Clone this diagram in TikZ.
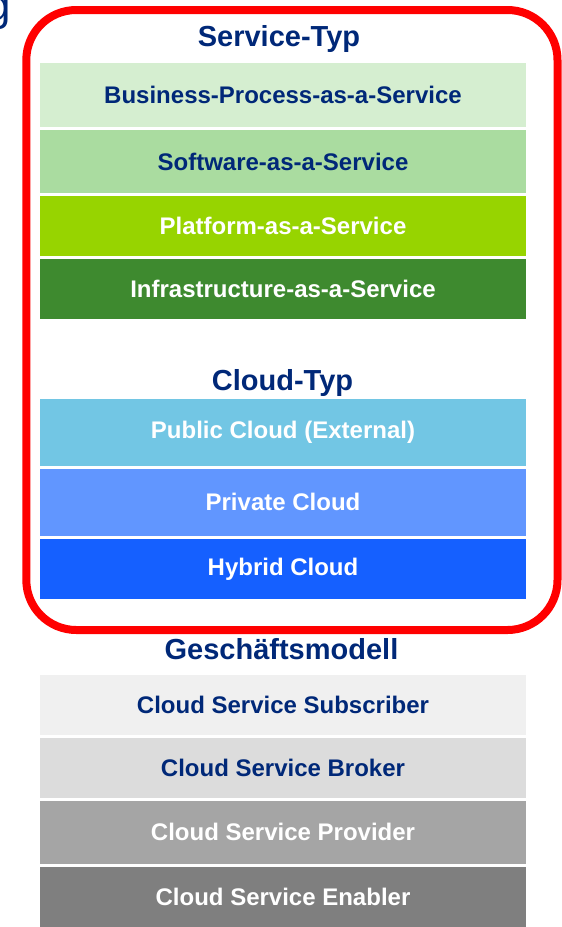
\documentclass[tikz,border=0pt]{standalone}
\usepackage{fontspec}
\setmainfont{Liberation Sans}
\usetikzlibrary{positioning}

\definecolor{navy}{HTML}{002878}
\definecolor{framered}{HTML}{FF0000}
\definecolor{bpaasgreen}{HTML}{D5EED0}
\definecolor{saasgreen}{HTML}{AADCA0}
\definecolor{paasgreen}{HTML}{97D400}
\definecolor{iaasgreen}{HTML}{3E8A2F}
\definecolor{publicblue}{HTML}{72C6E4}
\definecolor{privateblue}{HTML}{6196FF}
\definecolor{hybridblue}{HTML}{1560FF}
\definecolor{grayA}{HTML}{F0F0F0}
\definecolor{grayB}{HTML}{DCDCDC}
\definecolor{grayC}{HTML}{A5A5A5}
\definecolor{grayD}{HTML}{7F7F7F}

\tikzstyle{layer} = [minimum width=486pt, inner sep=0pt, outer sep=0pt, text centered, draw=none, font=\fontsize{24}{24}\selectfont\bfseries]
\tikzstyle{heading} = [anchor=base, text=navy, font=\fontsize{29}{29}\selectfont\bfseries]
\tikzstyle{frame} = [draw=framered, line width=8pt, rounded corners=50pt]

\begin{document}
\begin{tikzpicture}[x=1pt, y=-1pt, node distance=3.5pt]
    \useasboundingbox (0,0) rectangle (562,927);

    \node (cut) [anchor=base east, inner sep=0pt, text=navy, font=\fontsize{44}{44}\selectfont] at (11,20) {g};

    % Service-Typ
    \node (svctitle) [heading] at (279,46) {Service-Typ};
    \node (bpaas) [layer, anchor=north, minimum height=63.5pt, fill=bpaasgreen, text=navy] at (283,63.3) {Business-Process-as-a-Service};
    \node (saas) [layer, below=of bpaas, minimum height=62.5pt, fill=saasgreen, text=navy] {Software-as-a-Service};
    \node (paas) [layer, below=of saas, minimum height=59.5pt, fill=paasgreen, text=white] {Platform-as-a-Service};
    \node (iaas) [layer, below=of paas, minimum height=60pt, fill=iaasgreen, text=white] {Infrastructure-as-a-Service};

    % Cloud-Typ
    \node (cloudtitle) [heading] at (282.5,390) {Cloud-Typ};
    \node (public) [layer, anchor=north, minimum height=66.5pt, fill=publicblue, text=white] at (283,399) {Public Cloud (External)};
    \node (private) [layer, below=3pt of public, minimum height=67.5pt, fill=privateblue, text=white] {Private Cloud};
    \node (hybrid) [layer, below=3pt of private, minimum height=60pt, fill=hybridblue, text=white] {Hybrid Cloud};

    \draw[frame] (26.3,10) rectangle (557.5,630);

    % Geschaeftsmodell
    \node (modeltitle) [heading] at (281.5,659) {Geschäftsmodell};
    \node (subscriber) [layer, anchor=north, minimum height=60pt, fill=grayA, text=navy] at (283,675) {Cloud Service Subscriber};
    \node (broker) [layer, below=3.3pt of subscriber, minimum height=59.5pt, fill=grayB, text=navy] {Cloud Service Broker};
    \node (provider) [layer, below=3.3pt of broker, minimum height=62.5pt, fill=grayC, text=white] {Cloud Service Provider};
    \node (enabler) [layer, below=3.3pt of provider, minimum height=61pt, fill=grayD, text=white] {Cloud Service Enabler};

    \end{tikzpicture}
\end{document}
